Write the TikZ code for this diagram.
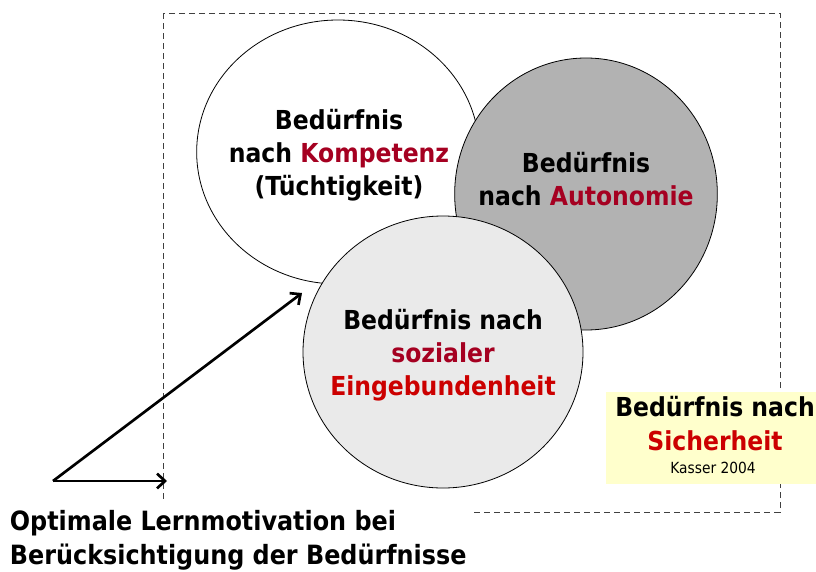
\documentclass[tikz,border=0pt]{standalone}
\usepackage{fontspec}
\setmainfont{DejaVu Sans Condensed}
\usetikzlibrary{arrows.meta,shapes.geometric}
\definecolor{dunkelrot}{HTML}{A50021}
\definecolor{hellrot}{HTML}{CC0000}
\definecolor{mittelgrau}{HTML}{B2B2B2}
\definecolor{hellgrau}{HTML}{EAEAEA}
\definecolor{hellgelb}{HTML}{FFFFCC}
\begin{document}
\begin{tikzpicture}[x=0.75pt,y=-0.75pt,
  kreis/.style={ellipse, draw=black, line width=0.6pt, inner sep=0pt},
  txt/.style={font=\fontsize{19.6}{24.75}\selectfont\bfseries, align=center},
  rahmen/.style={draw=black!75, line width=0.7pt, dash pattern=on 4.5pt off 3pt},
  pfeil/.style={line width=2pt, -{Straight Barb[length=6pt,width=11pt,line width=2pt]}}]
\useasboundingbox (0,0) rectangle (816,571);
% gestrichelter Rahmen
\draw[rahmen] (163,13) rectangle (780,512);
% die drei Kreise
\node[kreis, fill=white, minimum width=212pt, minimum height=198pt] (kompetenzKreis) at (338,152) {};
\node[kreis, fill=mittelgrau, minimum width=197pt, minimum height=204pt] (autonomieKreis) at (586,194) {};
\node[kreis, fill=hellgrau, minimum width=210pt, minimum height=204pt] (sozialKreis) at (443,352) {};
% Texte
\node[txt] (kompetenz) at (339,155) {Bedürfnis\\nach \textcolor{dunkelrot}{Kompetenz}\\(Tüchtigkeit)};
\node[txt] (autonomie) at (586,179) {Bedürfnis\\nach \textcolor{dunkelrot}{Autonomie}};
\node[txt] (sozial) at (443,355) {Bedürfnis nach\\\textcolor{dunkelrot}{sozialer}\\\textcolor{hellrot}{Eingebundenheit}};
% Sicherheit
\node[fill=hellgelb, minimum width=157.5pt, minimum height=69pt] (sicherheitBox) at (711,438) {};
\node[txt, font=\fontsize{19.6}{25.5}\selectfont\bfseries] (sicherheit) at (715,424) {Bedürfnis nach\\\textcolor{hellrot}{Sicherheit}};
\node[font=\fontsize{11.5}{14}\selectfont] (kasser) at (713,468) {Kasser 2004};
% Pfeile
\coordinate (start) at (53,481);
\coordinate (zielKreis) at (302,293);
\coordinate (zielRahmen) at (167,481);
\draw[pfeil] (start) -- (zielKreis);
\draw[pfeil] (start) -- (zielRahmen);
% Unterschrift
\node[txt, fill=white, align=left, anchor=north west, font=\fontsize{19.9}{26}\selectfont\bfseries, inner sep=5pt] (motivation) at (3,503) {Optimale Lernmotivation bei\\Berücksichtigung der Bedürfnisse};
\end{tikzpicture}
\end{document}
